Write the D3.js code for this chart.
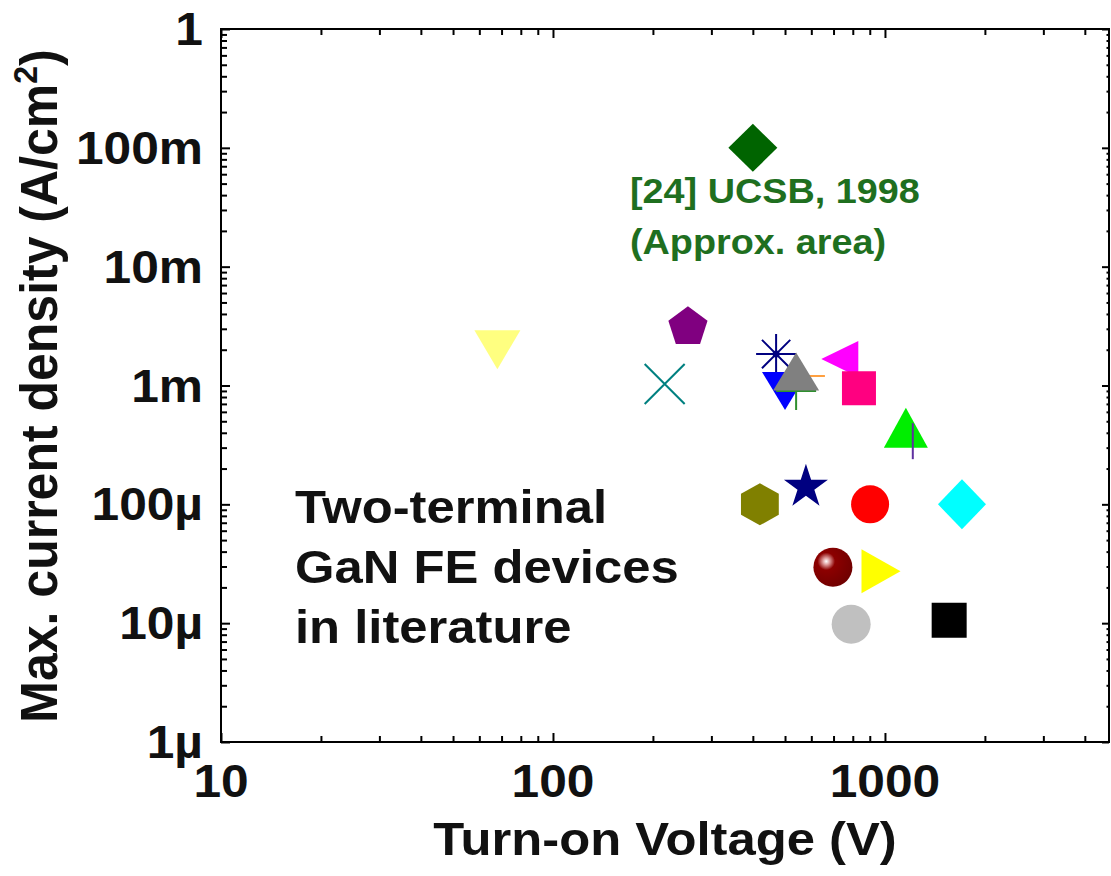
<!DOCTYPE html>
<html>
<head>
<meta charset="utf-8">
<script src="https://cdn.jsdelivr.net/npm/d3@7"></script>
<style>
  body { margin: 0; background: #fff; }
  svg { display: block; }
  text { font-family: "Liberation Sans", Arial, sans-serif; font-weight: bold; }
</style>
</head>
<body>
<svg id="chart" width="1111" height="876"></svg>
<script>
// Reported two-terminal GaN field-emission devices: turn-on voltage (V) and max current density (A/cm2)
const voltages  = [68, 217, 255, 400, 470, 500, 540, 574, 540, 731, 835, 1156, 1213, 420, 578, 902, 1706, 697, 973, 791, 1561];
const densities = [2.0e-3, 1.03e-3, 3.1e-3, 1.0e-1, 1.84e-3, 9.0e-4, 9.0e-4, 1.2e-3, 1.31e-3, 1.67e-3, 9.5e-4, 4.4e-4, 3.4e-4, 1.0e-4, 1.4e-4, 1.0e-4, 1.0e-4, 2.96e-5, 2.74e-5, 9.8e-6, 1.06e-5];

// Axis ticks
const yTickValues = [1e-6, 1e-5, 1e-4, 1e-3, 1e-2, 1e-1, 1];
const yTickLabels = ["1µ", "10µ", "100µ", "1m", "10m", "100m", "1"];
const xTickValues = [10, 100, 1000];
const xTickLabels = ["10", "100", "1000"];

// Text blocks
const noteLines = ["[24] UCSB, 1998", "(Approx. area)"];
const infoLines = ["Two-terminal", "GaN FE devices", "in literature"];

// Marker appearance, one entry per data point (same order as the arrays above)
const markerStyles = [
  { shape: "triDown",  fill: "#FFFF80", w: 46, h: 39 },
  { shape: "cross",    stroke: "#008080", w: 40, h: 40 },
  { shape: "pentagon", fill: "#800080", w: 40, h: 38 },
  { shape: "diamond",  fill: "#006400", w: 49, h: 48 },
  { shape: "asterisk", stroke: "#000080", w: 40, h: 40 },
  { shape: "triDown",  fill: "#0000FF", w: 46, h: 38 },
  { shape: "plus",     stroke: "#2F8F2F", w: 40, h: 38 },
  { shape: "hline",    stroke: "#FFA040", w: 40, h: 0 },
  { shape: "triUp",    fill: "#808080", w: 46, h: 38 },
  { shape: "triLeft",  fill: "#FF00FF", w: 37, h: 36 },
  { shape: "square",   fill: "#FF0080", w: 34, h: 34 },
  { shape: "triUp",    fill: "#00EE00", w: 44, h: 40 },
  { shape: "vline",    stroke: "#6030A0", w: 0, h: 36 },
  { shape: "hexagon",  fill: "#808000", w: 39, h: 42 },
  { shape: "star",     fill: "#000080", w: 42, h: 40 },
  { shape: "circle",   fill: "#FF0000", w: 38, h: 38 },
  { shape: "diamond",  fill: "#00FFFF", w: 48, h: 50 },
  { shape: "sphere",   fill: "#800000", w: 39, h: 39 },
  { shape: "triRight", fill: "#FFFF00", w: 39, h: 44 },
  { shape: "circle",   fill: "#C0C0C0", w: 39, h: 39 },
  { shape: "square",   fill: "#000000", w: 35, h: 35 }
];

const svg = d3.select("#chart");
const plot = { left: 221, right: 1109, top: 29, bottom: 742 };

const x = d3.scaleLog().domain([10, 4730]).range([plot.left, plot.right]);
const y = d3.scaleLog().domain([1e-6, 1]).range([plot.bottom, plot.top]);

const stretch = 1.08;

// Sphere shading
const defs = svg.append("defs");
const grad = defs.append("radialGradient").attr("id", "sphereGrad")
  .attr("cx", "0.33").attr("cy", "0.35").attr("r", "0.7").attr("fx", "0.33").attr("fy", "0.35");
grad.append("stop").attr("offset", "0").attr("stop-color", "#ffffff");
grad.append("stop").attr("offset", "0.12").attr("stop-color", "#e0a0a0");
grad.append("stop").attr("offset", "0.32").attr("stop-color", "#8c0000");
grad.append("stop").attr("offset", "1").attr("stop-color", "#700000");

// Minor / major tick values
function minorTicks(lo, hi) {
  const out = [];
  for (let e = Math.floor(Math.log10(lo)); e <= Math.ceil(Math.log10(hi)); e++) {
    for (let k = 2; k <= 9; k++) {
      const v = k * Math.pow(10, e);
      if (v > lo && v < hi) out.push(v);
    }
  }
  return out;
}
const yMinor = minorTicks(1e-6, 1);
const xMinor = minorTicks(10, 4730);

function drawTicks(axisGen, transform, values, size, width) {
  const g = svg.append("g").attr("transform", transform)
    .call(axisGen.tickValues(values).tickSizeInner(size).tickSizeOuter(0).tickFormat(""));
  g.select(".domain").remove();
  g.selectAll(".tick line").attr("stroke", "#000").attr("stroke-width", width);
  return g;
}

// Left / right
drawTicks(d3.axisLeft(y), `translate(${plot.left},0)`, yTickValues, -9, 2);
drawTicks(d3.axisLeft(y), `translate(${plot.left},0)`, yMinor, -6, 2);
drawTicks(d3.axisRight(y), `translate(${plot.right},0)`, yTickValues, -7, 2);
drawTicks(d3.axisRight(y), `translate(${plot.right},0)`, yMinor, -2.5, 2);
// Bottom / top
drawTicks(d3.axisBottom(x), `translate(0,${plot.bottom})`, xTickValues, -9, 2);
drawTicks(d3.axisBottom(x), `translate(0,${plot.bottom})`, xMinor, -6, 2);
drawTicks(d3.axisTop(x), `translate(0,${plot.top})`, xTickValues, -9, 2);
drawTicks(d3.axisTop(x), `translate(0,${plot.top})`, xMinor, -6, 2);

// Frame
svg.append("rect")
  .attr("x", plot.left).attr("y", plot.top)
  .attr("width", plot.right - plot.left).attr("height", plot.bottom - plot.top)
  .attr("fill", "none").attr("stroke", "#000").attr("stroke-width", 2);

// Stretched text helper
function label(px, py, str, size, anchor, color) {
  return svg.append("text")
    .attr("transform", `translate(${px},${py}) scale(${stretch},1)`)
    .attr("text-anchor", anchor)
    .attr("font-size", size)
    .attr("fill", color || "#000")
    .text(str);
}

// Y tick labels
yTickValues.forEach((v, i) => {
  label(203, y(v) + 16, yTickLabels[i], 46, "end", "#111");
});
// X tick labels
xTickValues.forEach((v, i) => {
  label(x(v), 797, xTickLabels[i], 46, "middle", "#111");
});

// Axis titles
label((plot.left + plot.right) / 2, 855, "Turn-on Voltage (V)", 47, "middle", "#111");
const yt = svg.append("text")
  .attr("transform", `translate(57,386) scale(1.04,1) rotate(-90)`)
  .attr("text-anchor", "middle")
  .attr("font-size", 50)
  .attr("fill", "#111");
yt.append("tspan").text("Max. current density (A/cm");
yt.append("tspan").attr("font-size", 32).attr("dy", -19).text("2");
yt.append("tspan").attr("dy", 19).text(")");

// Marker geometry
function polygon(n, w, h, startDeg) {
  const pts = [];
  for (let k = 0; k < n; k++) {
    const a = (startDeg + k * 360 / n) * Math.PI / 180;
    pts.push([Math.cos(a) * w / 2, Math.sin(a) * h / 2]);
  }
  return "M" + pts.map(p => p.join(",")).join("L") + "Z";
}
function markerPath(s) {
  const w = s.w, h = s.h;
  switch (s.shape) {
    case "triDown":  return `M${-w/2},${-h/2}L${w/2},${-h/2}L0,${h/2}Z`;
    case "triUp":    return `M0,${-h/2}L${w/2},${h/2}L${-w/2},${h/2}Z`;
    case "triLeft":  return `M${-w/2},0L${w/2},${-h/2}L${w/2},${h/2}Z`;
    case "triRight": return `M${w/2},0L${-w/2},${-h/2}L${-w/2},${h/2}Z`;
    case "square":   return `M${-w/2},${-h/2}H${w/2}V${h/2}H${-w/2}Z`;
    case "diamond":  return `M0,${-h/2}L${w/2},0L0,${h/2}L${-w/2},0Z`;
    case "hexagon":  return polygon(6, w * 1.12, h, -90);
    case "pentagon": return polygon(5, w * 1.03, h * 1.1, -90);
    case "star":     return d3.symbol(d3.symbolStar, w * w * 0.34)();
    case "circle":
    case "sphere":   return d3.symbol(d3.symbolCircle, Math.PI * w * w / 4)();
    case "cross":    return `M${-w/2},${-h/2}L${w/2},${h/2}M${w/2},${-h/2}L${-w/2},${h/2}`;
    case "plus":     return `M${-w/2},0H${w/2}M0,${-h/2}V${h/2}`;
    case "hline":    return `M${-w/2},0H${w/2}`;
    case "vline":    return `M0,${-h/2}V${h/2}`;
    case "asterisk": {
      const r = w / 2, d = r * Math.SQRT1_2;
      return `M${-r},0H${r}M0,${-r}V${r}M${-d},${-d}L${d},${d}M${d},${-d}L${-d},${d}`;
    }
  }
}

const points = voltages.map((v, i) => ({ v, j: densities[i], s: markerStyles[i] }));
const marks = svg.append("g");
points.forEach(p => {
  const g = marks.append("g").attr("transform", `translate(${x(p.v)},${y(p.j)})`);
  const lineLike = !!p.s.stroke;
  g.append("path")
    .attr("d", markerPath(p.s))
    .attr("fill", lineLike ? "none" : (p.s.shape === "sphere" ? "url(#sphereGrad)" : p.s.fill))
    .attr("stroke", lineLike ? p.s.stroke : "none")
    .attr("stroke-width", lineLike ? 2 : 0);
  if (p.s.shape === "asterisk") {
    g.append("circle").attr("r", 3.5).attr("fill", p.s.stroke);
  }
});

// Annotation for the highest-current device
noteLines.forEach((t, i) => label(630, 203 + i * 51, t, 35, "start", "#1F6F1F"));

// Description block
infoLines.forEach((t, i) => label(295, 523 + i * 60, t, 47, "start", "#111"));
</script>
</body>
</html>
